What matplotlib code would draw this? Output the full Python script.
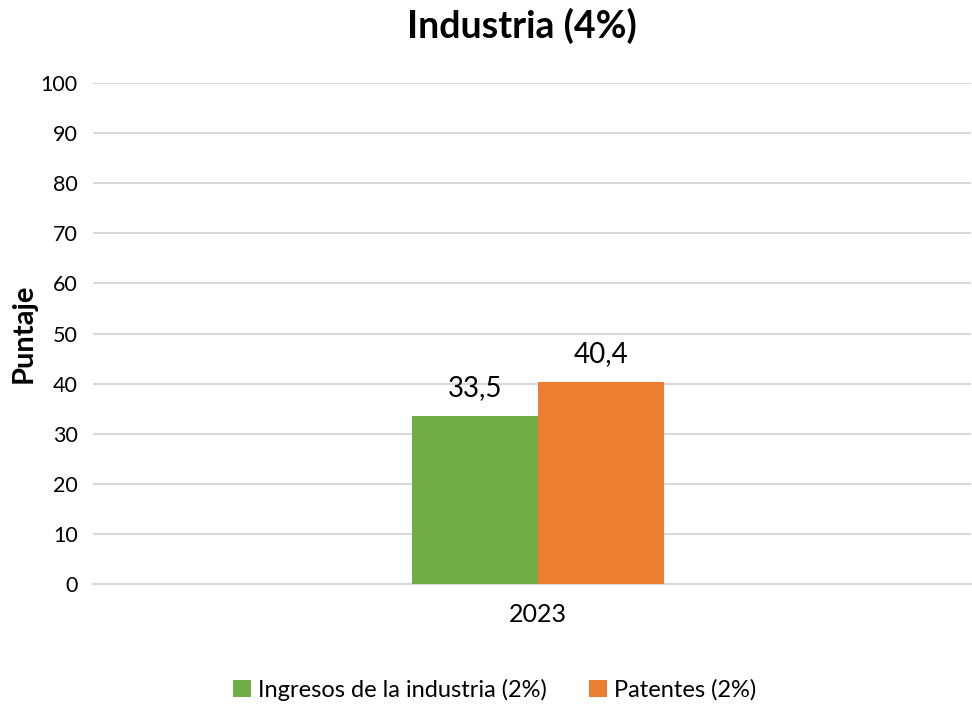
import numpy as np
import matplotlib
matplotlib.use("Agg")
from matplotlib import pyplot as plt

plt.rcParams['font.family'] = ['Lato', 'DejaVu Sans']

categories = ['2023']
series_names = ['Ingresos de la industria (2%)', 'Patentes (2%)']
series_values = [[33.5], [40.4]]
colors = ['#70AD47', '#ED7D31']
yticks = [0, 10, 20, 30, 40, 50, 60, 70, 80, 90, 100]

fig = plt.figure(figsize=(9.72, 7.04), dpi=100)
ax = fig.add_axes([0.0957, 0.1705, 0.9033, 0.7115])

w = 1.0
x = np.arange(len(categories))
offsets = [-w / 2, w / 2]
for name, vals, c, off in zip(series_names, series_values, colors, offsets):
    bars = ax.bar(x + off, vals, width=w, color=c, label=name, zorder=3)
    for b, v in zip(bars, vals):
        ax.text(b.get_x() + b.get_width() / 2, v + 3.0, f"{v:.1f}".replace('.', ','),
                ha='center', va='bottom', fontsize=20, color='#000000')

ax.set_ylim(0, 100)
ax.set_xlim(-3.53, 3.44)
ax.set_yticks(yticks)
ax.set_yticklabels([str(t) for t in yticks], fontsize=15.5)
ax.set_xticks(x)
ax.set_xticklabels(categories, fontsize=18)
ax.tick_params(axis='y', length=0, pad=11)
ax.tick_params(axis='x', length=0, pad=14)
ax.grid(axis='y', color='#D9D9D9', linewidth=1.5, zorder=0)
for s in ['top', 'right', 'left']:
    ax.spines[s].set_visible(False)
ax.spines['bottom'].set_color('#D9D9D9')
ax.spines['bottom'].set_linewidth(1.5)

ax.set_ylabel('Puntaje', fontsize=21, fontweight='bold')
ax.yaxis.set_label_coords(-0.064, 0.5)
fig.text(0.537, 0.963, 'Industria (4%)', ha='center', va='center',
         fontsize=27, fontweight='bold')

fig.legend(loc='center', bbox_to_anchor=(0.509, 0.02), ncol=2, frameon=False,
           fontsize=17, handlelength=0.75, handleheight=0.75, handletextpad=0.3,
           columnspacing=1.8)

fig.savefig('out.png', dpi=100)
